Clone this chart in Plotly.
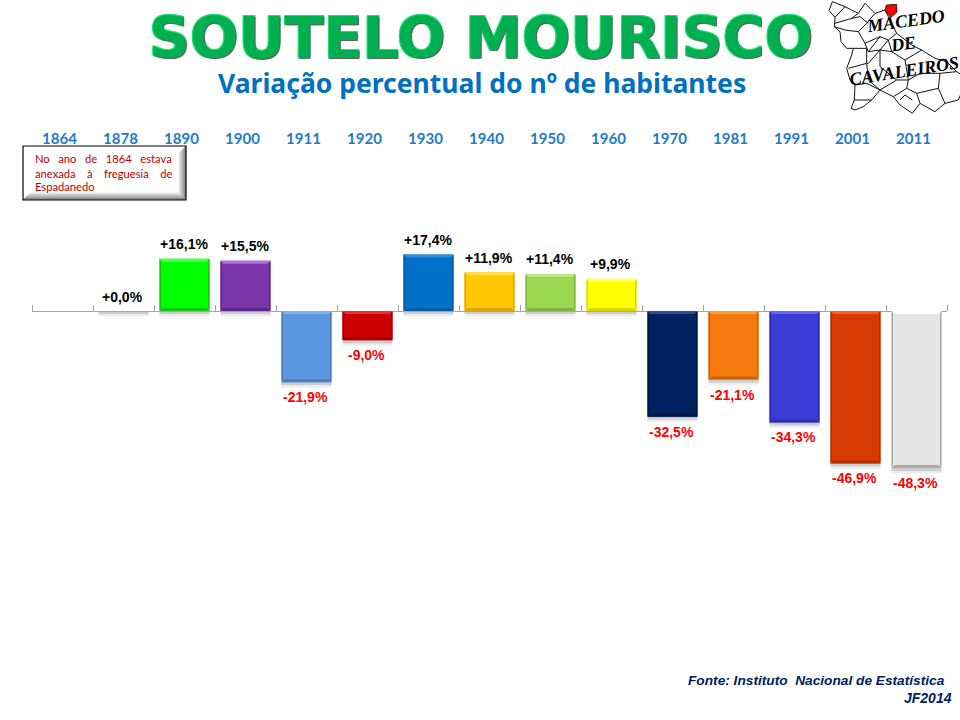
import plotly.graph_objects as go

# ---- data ----
years = ["1864","1878","1890","1900","1911","1920","1930","1940","1950","1960","1970","1981","1991","2001","2011"]
variation = [None,0.0,16.1,15.5,-21.9,-9.0,17.4,11.9,11.4,9.9,-32.5,-21.1,-34.3,-46.9,-48.3]
labels = ["","+0,0%","+16,1%","+15,5%","-21,9%","-9,0%","+17,4%","+11,9%","+11,4%","+9,9%","-32,5%","-21,1%","-34,3%","-46,9%","-48,3%"]
bar_colors = ["#FFFFFF","#FFFFFF","#00FF00","#7A35A8","#5B97DE","#CC0000","#0070C8","#FFC800","#9BD850","#FFFF00","#002060","#F47A10","#3B3BD6","#D83A04","#E6E6E6"]
top_colors = ["#FFFFFF","#FFFFFF","#4DFF4D","#B070E0","#80B4F0","#E83030","#3090E0","#FFDC50","#BCE880","#FFFF70","#2A4C90","#FFA030","#6A6AF0","#FF6020","#FFFFFF"]
dark_colors = ["#FFFFFF","#FFFFFF","#10C810","#5A2884","#4A7DBA","#A00000","#005CA6","#D8A800","#80B440","#D8D800","#001640","#C86408","#2C2CB0","#B03002","#A8A8A8"]

W, H = 960, 720
X0, X1 = 32, 947          # axis extent, px
Y_ZERO = 311              # zero line, px
PX_PER_UNIT = 3.25

def px(x): return x / W
def py(y): return 1 - y / H

bw = 0.82
fig = go.Figure()

# hidden twin of the bars that carries the year labels on the top axis
fig.add_trace(go.Bar(x=years, y=variation, xaxis="x2", yaxis="y", opacity=0, hoverinfo="skip", showlegend=False))

fig.add_trace(go.Bar(
    x=years, y=variation, width=bw,
    marker=dict(color=bar_colors, line=dict(width=0)),
    showlegend=False))

shapes = []
bev_x, bev_y = 3.0/61, 3.0/PX_PER_UNIT
for i, v in enumerate(variation):
    if v is None:
        continue
    l, r = i - bw/2, i + bw/2
    top, bot = max(v, 0), min(v, 0)
    # soft shadow below the bar
    for k, op in ((1.6, .16), (0.9, .28)):
        shapes.append(dict(type="rect", xref="x", yref="y", x0=l, x1=r, y0=bot, y1=bot - k,
                           fillcolor="#808080", opacity=op, line_width=0, layer="below"))
    if v == 0:
        continue
    def poly(pts, col):
        d = "M" + " L".join(f"{a},{b}" for a, b in pts) + " Z"
        shapes.append(dict(type="path", xref="x", yref="y", path=d, fillcolor=col, line_width=0, layer="above"))
    poly([(l, top), (r, top), (r - bev_x, top - bev_y), (l + bev_x, top - bev_y)], top_colors[i])
    poly([(l, bot), (r, bot), (r - bev_x, bot + bev_y), (l + bev_x, bot + bev_y)], dark_colors[i])
    poly([(l, top), (l + bev_x*.5, top - bev_y), (l + bev_x*.5, bot + bev_y), (l, bot)], dark_colors[i])
    poly([(r, top), (r - bev_x*.5, top - bev_y), (r - bev_x*.5, bot + bev_y), (r, bot)], dark_colors[i])

# note box
NB = (23, 146, 186, 200)
for k, c in ((8, "#F4F4F4"), (7, "#E4E4E4"), (6, "#D4D4D4"), (5, "#C4C4C4"), (4, "#B4B4B4"), (3, "#A4A4A4"), (2, "#909090")):
    shapes.append(dict(type="path", xref="paper", yref="paper", layer="above", line_width=0, fillcolor=c,
        path=(f"M{px(NB[2])},{py(NB[1])} L{px(NB[2])},{py(NB[3])} L{px(NB[0])},{py(NB[3])} "
              f"L{px(NB[0]+k)},{py(NB[3]-k)} L{px(NB[2]-k)},{py(NB[3]-k)} L{px(NB[2]-k)},{py(NB[1]+k)} Z")))
shapes.append(dict(type="rect", xref="paper", yref="paper", layer="above",
                   x0=px(NB[0]), x1=px(NB[2]), y0=py(NB[1]), y1=py(NB[3]),
                   line=dict(color="#000000", width=1.2), fillcolor="rgba(0,0,0,0)"))

# small county map (decoration), points in pixels of a 3x crop at (825,0)
map_lines = [
 [(22,5),(12,32),(30,52),(28,80),(45,95),(48,125),(65,145),(85,145),(80,165),(65,205),(75,240),(90,255),(88,300),(78,325),(90,330),(115,320),(140,300),(165,270),(205,290),(225,315),(262,340),(285,310),(330,335),(360,310),(400,300),(415,265),(410,225),(395,215),(365,185),(330,175),(290,150),(260,135),(215,100),(190,50),(180,30),(150,40),(120,10),(100,40),(80,30),(60,20),(22,5)],
 [(30,52),(60,20)],[(30,70),(80,55),(100,40)],[(28,80),(60,90),(100,95),(120,130),(165,110),(190,120),(215,100)],
 [(80,55),(105,50),(130,70)],[(100,95),(125,70),(150,40)],[(120,130),(130,155),(165,110)],
 [(85,145),(125,145),(125,190),(70,205)],[(130,155),(165,150),(190,120),(200,155),(165,150),(130,190),(125,190)],
 [(90,255),(125,250),(165,270)],[(125,190),(130,240),(165,270),(215,240),(250,240)],[(165,150),(165,200),(215,240)],
 [(200,155),(240,180),(290,150)],[(240,180),(250,240),(245,265),(205,290)],[(250,240),(285,220),(345,220),(340,265),(275,280),(245,265)],
 [(345,220),(395,215)],[(340,265),(360,310)],[(275,280),(285,310)],[(225,300),(240,285),(262,300)],[(88,300),(115,300),(140,300)],
]
for ln in map_lines:
    d = "M" + " L".join(f"{px(825+a/3)},{py(b/3)}" for a, b in ln)
    shapes.append(dict(type="path", xref="paper", yref="paper", path=d, line=dict(color="#111111", width=1), layer="below"))
red = [(180,30),(184,15),(215,13),(216,36),(197,53)]
shapes.append(dict(type="path", xref="paper", yref="paper", layer="above",
    path="M" + " L".join(f"{px(825+a/3)},{py(b/3)}" for a, b in red) + " Z",
    fillcolor="#FF0000", line=dict(color="#111111", width=0.8)))

def note(text, x, y, size, color, family, weight="normal", style="normal", anchor="center", angle=0, shadow=None):
    font = dict(family=family, size=size, color=color, weight=weight, style=style)
    if shadow:
        font["shadow"] = shadow
    return dict(text=text, x=px(x), y=py(y), xref="paper", yref="paper", showarrow=False,
                xanchor=anchor, yanchor="middle", font=font, textangle=angle)

sp2 = "&nbsp;" * 3
sp3 = "&nbsp;" * 4
ann = [
    note("SOUTELO MOURISCO", 481, 38, 57, "#00B050", "DejaVu Sans", weight="bold",
         shadow="1px 1px 0 #606060, -1px -1px 0 #20E070, 1px -1px 0 #20E070, -1px 1px 0 #20E070"),
    note("Variação percentual do nº de habitantes", 482, 83, 26.5, "#0070C0", "Noto Sans", weight="bold"),
    note(sp2.join(["No", "ano", "de", "1864", "estava"]), 33, 158, 11.2, "#C00000", "Lato", anchor="left"),
    note(sp3.join(["anexada", "à", "freguesia", "de"]), 33, 173, 11.2, "#C00000", "Lato", anchor="left"),
    note("Espadanedo", 33, 187, 11.2, "#C00000", "Lato", anchor="left"),
    note("Fonte: Instituto  Nacional de Estatística", 947, 680, 13.7, "#002060", "Liberation Sans", weight="bold", style="italic", anchor="right"),
    note("JF2014", 954, 698, 14, "#002060", "Liberation Sans", weight="bold", style="italic", anchor="right"),
    note("MACEDO", 905, 21, 18, "#000000", "Liberation Serif", weight="bold", style="italic", angle=-8),
    note("DE", 903, 44, 18, "#000000", "Liberation Serif", weight="bold", style="italic", angle=-8),
    note("CAVALEIROS", 904, 71, 18, "#000000", "Liberation Serif", weight="bold", style="italic", angle=-9),
]
# value labels, anchored to the bars through the axes (category serial numbers)
for i, (v, lab) in enumerate(zip(variation, labels)):
    if v is None:
        continue
    ann.append(dict(text=lab, x=i, y=v, xref="x", yref="y", showarrow=False, xanchor="center", yanchor="middle",
                    xshift=-1, yshift=14.5 if v >= 0 else -15,
                    font=dict(family="Liberation Sans", size=14, weight="bold",
                              color="#000000" if v >= 0 else "#FF0000")))

y_top = Y_ZERO / PX_PER_UNIT
y_bot = -(H - Y_ZERO) / PX_PER_UNIT
dom = [px(X0), px(X1)]
dom2 = [px(X0 - 3), px(X1 - 3)]
x_range = [-0.5, len(years) - 0.5]

fig.update_layout(
    width=W, height=H, autosize=False,
    margin=dict(l=0, r=0, t=0, b=0),
    paper_bgcolor="#FFFFFF", plot_bgcolor="rgba(0,0,0,0)",
    barmode="overlay", bargap=0.18,
    shapes=shapes, annotations=ann,
    xaxis=dict(domain=dom, type="category", categoryorder="array", categoryarray=years, range=x_range,
               tickson="boundaries", ticks="outside", ticklen=6, tickcolor="#A6A6A6", tickwidth=1,
               side="top", showticklabels=False, showgrid=False, zeroline=False,
               showline=True, linecolor="#A6A6A6", linewidth=1,
               anchor="free", position=py(Y_ZERO), fixedrange=True),
    xaxis2=dict(domain=dom2, type="category", categoryorder="array", categoryarray=years, range=x_range,
                side="top", anchor="free", position=py(147),
                showline=False, ticks="", showgrid=False, zeroline=False, fixedrange=True,
                tickfont=dict(family="Lato", size=15, color="#1F7BC8", weight="bold")),
    yaxis=dict(range=[y_bot, y_top], visible=False, showgrid=False, zeroline=False, fixedrange=True),
)
fig.write_html("out.html", config=dict(displayModeBar=False),
               post_script="document.body.style.margin='0';")
